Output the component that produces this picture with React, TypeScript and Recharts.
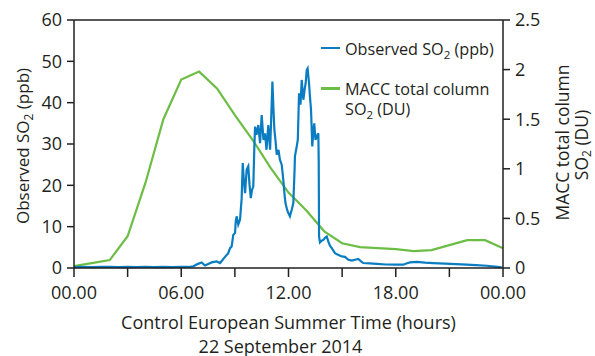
import { LineChart, Line, XAxis, YAxis, Legend, ReferenceLine } from "recharts";

const ink = "#231f20";
const blue = "#0a7dc2";
const green = "#6cbd45";
const font = "'Open Sans', sans-serif";

// x axis: hours of the day
const hourTicks = [0, 3, 6, 9, 12, 15, 18, 21, 24];
const hourLabels: Record<number, string> = { 0: "00.00", 6: "06.00", 12: "12.00", 18: "18.00", 24: "00.00" };
const ppbTicks = [0, 10, 20, 30, 40, 50, 60];
const duTicks = [0, 0.5, 1, 1.5, 2, 2.5];

// MACC total column SO2 (DU), hourly
const maccHours = [0, 1, 2, 3, 4, 5, 6, 7, 8, 9, 10, 11, 12, 13, 14, 15, 16, 17, 18, 19, 20, 21, 22, 23, 24];
const maccDU = [0.02, 0.05, 0.08, 0.32, 0.86, 1.5, 1.9, 1.98, 1.81, 1.54, 1.29, 1.01, 0.76, 0.58, 0.37, 0.25, 0.21, 0.2, 0.19, 0.17, 0.18, 0.23, 0.28, 0.28, 0.2];

// observed SO2 (ppb)
const obsHours = [
  0, 0.5, 1, 1.5, 2, 2.5, 3, 3.5, 4, 4.5, 5, 5.5, 6, 6.4, 6.67, 6.94, 7.14, 7.33, 7.7, 7.98,
  8.17, 8.45, 8.63, 8.73, 8.82, 8.91, 9.01, 9.05, 9.1, 9.19, 9.29, 9.38, 9.44, 9.5, 9.57, 9.66,
  9.75, 9.82, 9.89, 9.96, 10.03, 10.09, 10.13, 10.21, 10.31, 10.41, 10.5, 10.6, 10.69, 10.77,
  10.87, 10.97, 11.03, 11.1, 11.16, 11.21, 11.27, 11.34, 11.44, 11.52, 11.62, 11.71, 11.78,
  11.83, 11.92, 11.99, 12.08, 12.18, 12.27, 12.34, 12.36, 12.46, 12.52, 12.59, 12.67, 12.74,
  12.83, 12.9, 12.96, 13.02, 13.07, 13.15, 13.2, 13.26, 13.33, 13.39, 13.44, 13.51, 13.58,
  13.67, 13.69, 13.71, 13.76, 13.85, 13.95, 14.04, 14.14, 14.23, 14.32, 14.42, 14.6, 14.77,
  14.98, 15.16, 15.35, 15.55, 15.72, 15.9, 16.06, 16.18, 16.56, 16.93, 17.45, 18.05, 18.42,
  18.63, 18.8, 19.17, 19.64, 20.1, 20.76, 21.37, 21.97, 22.49, 23.09, 23.55, 23.93,
];
const obsPpb = [
  0.2, 0.3, 0.2, 0.25, 0.3, 0.2, 0.25, 0.2, 0.3, 0.2, 0.25, 0.2, 0.3, 0.25, 0.4, 1.0, 1.35, 0.6, 1.35, 1.6,
  1.2, 2.7, 3.6, 4.8, 5.2, 8.0, 8.5, 11.3, 12.5, 10.5, 11.7, 16.9, 25.4, 21.3, 18.1, 23.8,
  24.6, 20.1, 16.9, 18.9, 19.7, 29.4, 34.2, 32.2, 34.6, 30.2, 37.0, 31.0, 32.6, 28.6,
  34.6, 28.6, 35.8, 45.1, 38.3, 33.4, 31.0, 27.4, 28.6, 26.2, 25.0, 21.3, 17.7,
  15.7, 14.1, 13.3, 12.5, 14.1, 15.7, 23.8, 27.0, 29.4, 31.0, 42.3, 39.5, 45.5,
  40.7, 43.1, 44.7, 47.9, 48.3, 44.7, 41.5, 38.3, 29.4, 33.0, 35.0, 31.0, 31.8,
  32.6, 26.2, 7.6, 6.2, 6.6, 6.8, 7.3, 7.6, 6.4, 5.4, 4.8, 3.6, 3.2,
  2.8, 2.7, 2.0, 1.8, 2.0, 2.2, 1.6, 1.2, 1.1, 1.0, 0.85, 0.8, 0.8,
  1.15, 1.35, 1.5, 1.3, 1.2, 1.05, 0.95, 0.8, 0.7, 0.55, 0.35, 0.15,
];

const maccData = maccHours.map((h, i) => ({ h, du: maccDU[i] }));
const obsData = obsHours.map((h, i) => ({ h, ppb: obsPpb[i] }));

const tickStyle = { fill: ink, fontSize: 18, fontFamily: font };

const LeftTitle = () => (
  <text transform="rotate(-90)" x={-146} y={28.5} textAnchor="middle" fill={ink} fontSize={17} fontFamily={font}>
    Observed SO<tspan dy={4} fontSize={12}>2</tspan><tspan dy={-4}> (ppb)</tspan>
  </text>
);

const RightTitle = () => (
  <g fill={ink} fontSize={17.5} fontFamily={font}>
    <text transform="rotate(-90)" x={-142.5} y={569} textAnchor="middle">MACC total column</text>
    <text transform="rotate(-90)" x={-145} y={587.5} textAnchor="middle">
      SO<tspan dy={3.5} fontSize={12}>2</tspan><tspan dy={-3.5}> (DU)</tspan>
    </text>
  </g>
);

const BottomTitle = () => (
  <g fill={ink} fontSize={18} fontFamily={font}>
    <text x={288.5} y={328.5} textAnchor="middle">Control European Summer Time (hours)</text>
    <text x={280.5} y={352.5} textAnchor="middle">22 September 2014</text>
  </g>
);

const LegendBox = () => (
  <div style={{ position: "relative", width: 595, height: 130, fontFamily: font, fontSize: 16.2, color: ink, lineHeight: "20px" }}>
    <div style={{ position: "absolute", left: 321, top: 46.8, width: 19, height: 2.5, background: blue }} />
    <div style={{ position: "absolute", left: 345, top: 38.5, whiteSpace: "nowrap" }}>
      Observed SO<span style={{ fontSize: 11.5, position: "relative", top: 4 }}>2</span> (ppb)
    </div>
    <div style={{ position: "absolute", left: 321, top: 87, width: 19, height: 2.5, background: green }} />
    <div style={{ position: "absolute", left: 345, top: 78.8, whiteSpace: "nowrap" }}>MACC total column</div>
    <div style={{ position: "absolute", left: 345, top: 98.8, whiteSpace: "nowrap" }}>
      SO<span style={{ fontSize: 11.5, position: "relative", top: 4 }}>2</span> (DU)
    </div>
  </div>
);

export default function App() {
  return (
    <div style={{ position: "absolute", left: 0, top: 0, width: 595, height: 356, background: "#fff" }}>
      <LineChart width={595} height={356} margin={{ top: 20, right: 0, bottom: 0, left: 0 }}>
        <XAxis
          dataKey="h"
          type="number"
          domain={[0, 24]}
          ticks={hourTicks}
          interval={0}
          tickFormatter={(v: number) => hourLabels[v] ?? ""}
          height={88}
          tickSize={9}
          tickMargin={9}
          tick={tickStyle}
          stroke={ink}
          strokeWidth={1.5}
          label={BottomTitle}
        />
        <YAxis
          yAxisId="left"
          domain={[0, 60]}
          ticks={ppbTicks}
          interval={0}
          width={74}
          tickSize={7}
          tickMargin={5}
          tick={tickStyle}
          stroke={ink}
          strokeWidth={1.5}
          label={LeftTitle}
        />
        <YAxis
          yAxisId="right"
          orientation="right"
          domain={[0, 2.5]}
          ticks={duTicks}
          interval={0}
          width={92}
          tickSize={7}
          tickMargin={5}
          tick={tickStyle}
          stroke={ink}
          strokeWidth={1.5}
          label={RightTitle}
        />
        <ReferenceLine yAxisId="left" y={60} stroke={ink} strokeWidth={1.5} />
        <Legend
          layout="vertical"
          align="center"
          verticalAlign="middle"
          content={LegendBox}
          wrapperStyle={{ top: 0, left: 0, width: 595, height: 130 }}
        />
        <Line
          yAxisId="right"
          data={maccData}
          dataKey="du"
          name="MACC total column SO2 (DU)"
          stroke={green}
          strokeWidth={2.2}
          dot={false}
          type="linear"
          isAnimationActive={false}
        />
        <Line
          yAxisId="left"
          data={obsData}
          dataKey="ppb"
          name="Observed SO2 (ppb)"
          stroke={blue}
          strokeWidth={2.2}
          dot={false}
          type="linear"
          isAnimationActive={false}
        />
      </LineChart>
    </div>
  );
}
